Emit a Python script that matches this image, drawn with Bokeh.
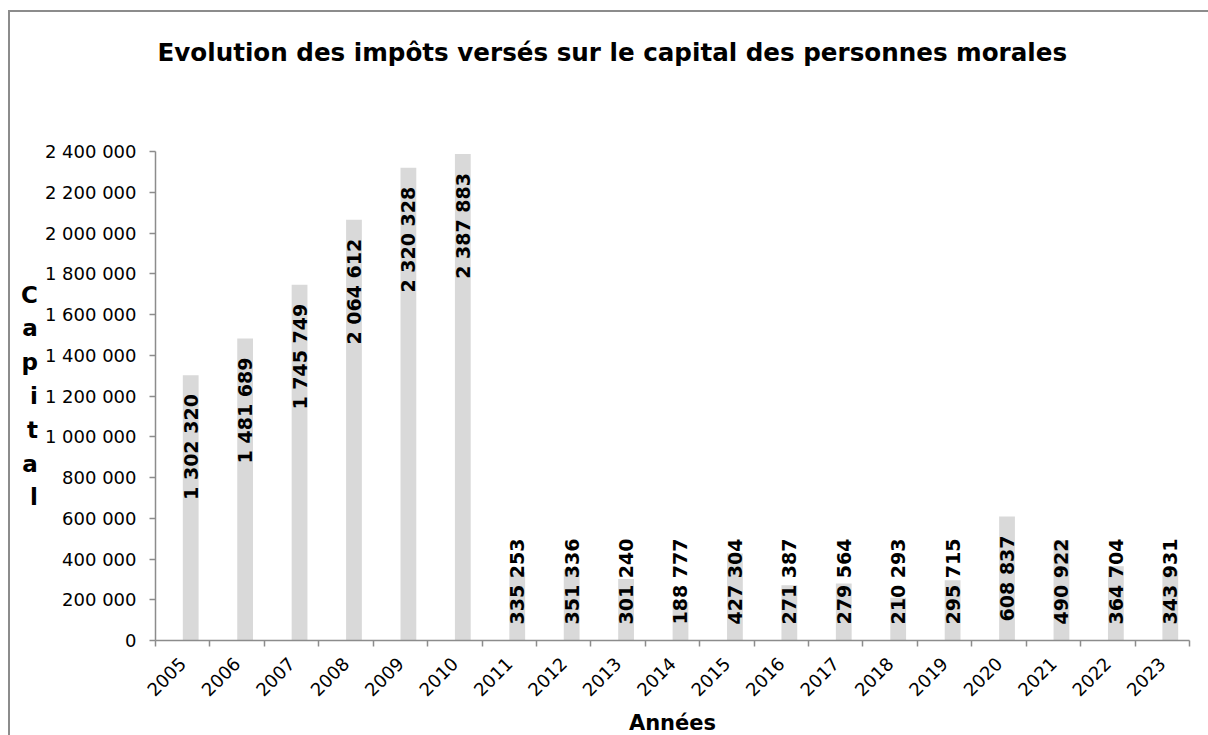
import math
from bokeh.plotting import figure
from bokeh.models import FixedTicker, Range1d, ColumnDataSource, Title
from bokeh.embed import file_html
from bokeh.resources import INLINE
from bokeh.core.properties import value

# ---- data ----
years = ["2005", "2006", "2007", "2008", "2009", "2010", "2011", "2012", "2013",
         "2014", "2015", "2016", "2017", "2018", "2019", "2020", "2021", "2022", "2023"]
capital = [1302320, 1481689, 1745749, 2064612, 2320328, 2387883, 335253, 351336,
           301240, 188777, 427304, 271387, 279564, 210293, 295715, 608837, 490922,
           364704, 343931]
y_ticks = [0, 200000, 400000, 600000, 800000, 1000000, 1200000, 1400000,
           1600000, 1800000, 2000000, 2200000, 2400000]
y_tick_labels = ["0", "200 000", "400 000", "600 000", "800 000", "1 000 000",
                 "1 200 000", "1 400 000", "1 600 000", "1 800 000", "2 000 000",
                 "2 200 000", "2 400 000"]
title_text = "Evolution des impôts versés sur le capital des personnes morales"
x_title = "Années"
y_title = "Capital"

# ---- layout / style ----
FRAME_W, FRAME_H = 1034, 489
Y_MAX = y_ticks[-1]
BAR_SHIFT = 0.147          # bars sit slightly right of the category centre
BAR_W = 0.29
AXIS_COLOR = "#8c8c8c"
BAR_COLOR = "#d9d9d9"
LBL_SIZE = 19

n = len(years)
cats = list(range(n))
x_bar = [i + BAR_SHIFT for i in cats]
boundaries = [i - 0.5 for i in range(n + 1)]
labels = [f"{v:,}".replace(",", " ") for v in capital]

p = figure(frame_width=FRAME_W, frame_height=FRAME_H,
           x_range=Range1d(-0.5, n - 0.5),
           y_range=Range1d(0, Y_MAX),
           min_border_left=145, min_border_right=19,
           min_border_top=139, min_border_bottom=95,
           output_backend="svg", toolbar_location=None)
p.styles = {"margin-left": "8px", "margin-top": "10px",
            "border-left": f"2px solid {AXIS_COLOR}",
            "border-top": f"2px solid {AXIS_COLOR}"}
p.background_fill_color = "white"
p.border_fill_color = "white"
p.outline_line_color = None
p.grid.visible = False

p.vbar(x=x_bar, top=capital, bottom=0, width=BAR_W, fill_color=BAR_COLOR, line_color=None)

# data labels: inside end when they fit, otherwise near the base
px_per_unit = FRAME_H / Y_MAX
end_src = dict(x=[], y=[], t=[])
base_src = dict(x=[], y=[], t=[])
for xb, v, t in zip(x_bar, capital, labels):
    L = sum(0.348 if ch == " " else 0.696 for ch in t) * LBL_SIZE
    if v * px_per_unit - 19 - L >= 16:
        end_src["x"].append(xb); end_src["y"].append(v); end_src["t"].append(t)
    else:
        base_src["x"].append(xb); base_src["y"].append(0); base_src["t"].append(t)

common = dict(angle=math.pi / 2, text_baseline="middle",
              text_font=value("DejaVu Sans"), text_font_style="bold",
              text_font_size=f"{LBL_SIZE}px", text_color="black")
p.text(x="x", y="y", text="t", source=ColumnDataSource(end_src),
       text_align="right", y_offset=19, **common)
p.text(x="x", y="y", text="t", source=ColumnDataSource(base_src),
       text_align="left", y_offset=-16, **common)

# x axis
xa = p.xaxis[0]
xa.ticker = FixedTicker(ticks=cats, minor_ticks=boundaries)
xa.major_label_overrides = {i: y for i, y in zip(cats, years)}
xa.major_tick_out = 0
xa.major_tick_in = 0
xa.minor_tick_out = 6
xa.minor_tick_in = 0
xa.minor_tick_line_color = AXIS_COLOR
xa.minor_tick_line_width = 1.5
xa.major_label_orientation = math.pi / 4
xa.major_label_standoff = 14
xa.axis_label = x_title
xa.axis_label_standoff = 6

# y axis
ya = p.yaxis[0]
ya.ticker = FixedTicker(ticks=y_ticks, minor_ticks=[])
ya.major_label_overrides = {t: l for t, l in zip(y_ticks, y_tick_labels)}
ya.major_tick_out = 6
ya.major_tick_in = 0
ya.major_tick_line_color = AXIS_COLOR
ya.major_tick_line_width = 1.5
ya.major_label_standoff = 13
ya.axis_label = "\n".join(y_title)
ya.axis_label_orientation = "horizontal"
ya.axis_label_standoff = 4
ya.axis_label_text_line_height = 1.3

for ax in (xa, ya):
    ax.axis_line_color = AXIS_COLOR
    ax.axis_line_width = 1.5
    ax.major_label_text_font = "DejaVu Sans"
    ax.major_label_text_font_size = "18px"
    ax.major_label_text_color = "black"
    ax.axis_label_text_font = "DejaVu Sans"
    ax.axis_label_text_font_style = "bold"
    ax.axis_label_text_color = "black"
xa.axis_label_text_font_size = "21px"
ya.axis_label_text_font_size = "23px"

# title, pushed up by an empty spacer panel between it and the frame
p.title.text = title_text
p.title.align = "left"
p.title.offset = 2
p.title.standoff = 0
p.title.text_font = "DejaVu Sans"
p.title.text_font_style = "bold"
p.title.text_font_size = "24.6px"
p.title.text_color = "black"
p.add_layout(Title(text=" ", text_font_size="1px", standoff=82), "above")

open("out.html", "w").write(file_html(p, INLINE))
